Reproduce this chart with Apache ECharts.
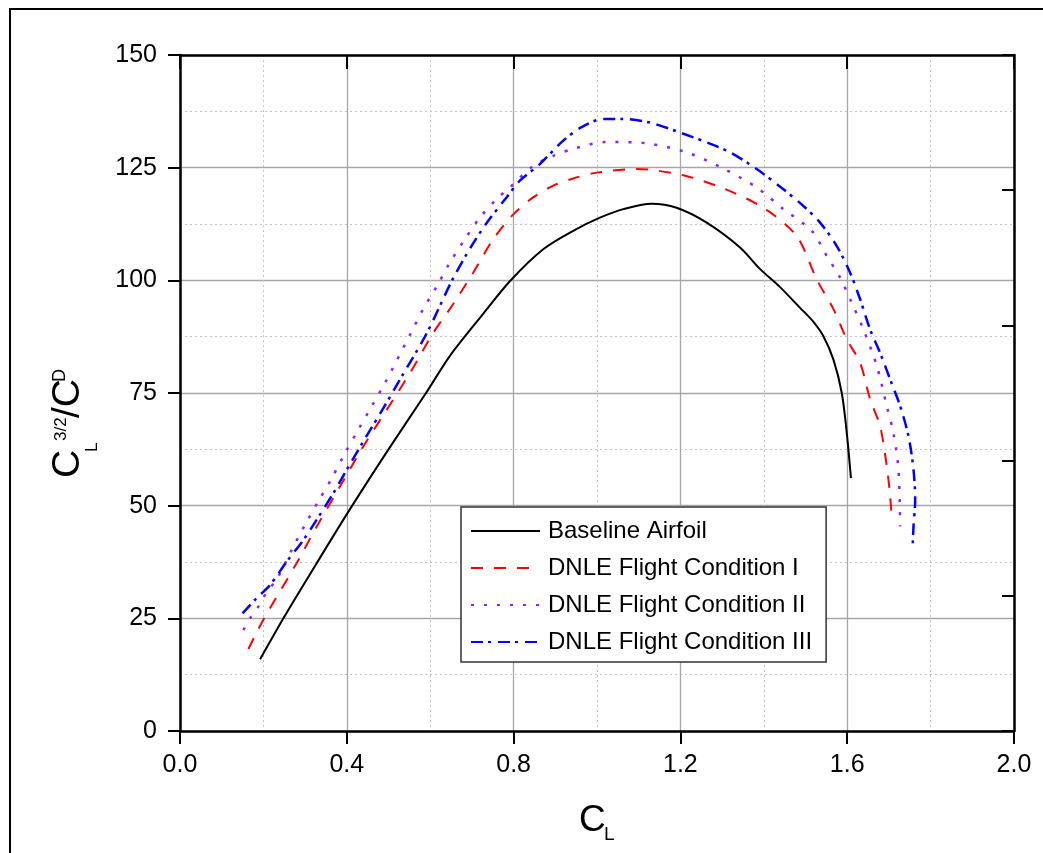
<!DOCTYPE html>
<html>
<head>
<meta charset="utf-8">
<script src="https://cdn.jsdelivr.net/npm/echarts@6/dist/echarts.min.js"></script>
<style>
  html, body { margin: 0; padding: 0; background: #fff; }
  #chart { width: 1043px; height: 853px; }
</style>
</head>
<body>
<div id="chart"></div>
<script>
// 横轴刻度
var xTicks = ['0.0', '0.4', '0.8', '1.2', '1.6', '2.0'];

// Baseline Airfoil
var baseCl = [0.192, 0.248, 0.30, 0.402, 0.50, 0.59, 0.647, 0.723, 0.791, 0.871, 0.943, 1.007, 1.063, 1.131, 1.191, 1.263, 1.343, 1.39, 1.439, 1.487, 1.519, 1.543, 1.567, 1.587, 1.599, 1.609];
var baseRatio = [15.9, 25.0, 33.0, 48.4, 62.5, 75.0, 83.2, 92.1, 99.8, 106.9, 111.0, 113.9, 115.8, 117.0, 116.1, 112.8, 107.3, 102.6, 98.5, 93.9, 90.8, 87.6, 82.4, 75.0, 66.1, 56.1];

// DNLE Flight Condition I
var cond1Cl = [0.164, 0.20, 0.28, 0.328, 0.384, 0.44, 0.496, 0.552, 0.607, 0.652, 0.703, 0.751, 0.80, 0.847, 0.895, 0.943, 1.0, 1.095, 1.207, 1.303, 1.399, 1.479, 1.527, 1.567, 1.599, 1.631, 1.655, 1.679, 1.695, 1.703, 1.707];
var cond1Ratio = [18.2, 24.7, 37.3, 45.4, 54.3, 63.2, 71.3, 79.5, 88.3, 94.3, 101.7, 109.1, 114.7, 118.4, 121.0, 122.6, 123.9, 124.7, 123.3, 120.4, 116.1, 109.8, 100.2, 93.6, 86.9, 81.7, 73.6, 67.6, 58.7, 52.1, 46.9];

// DNLE Flight Condition II
var cond2Cl = [0.152, 0.168, 0.188, 0.204, 0.236, 0.268, 0.30, 0.332, 0.364, 0.396, 0.428, 0.46, 0.492, 0.552, 0.583, 0.616, 0.647, 0.683, 0.719, 0.759, 0.791, 0.847, 0.895, 0.951, 1.023, 1.119, 1.215, 1.303, 1.383, 1.447, 1.515, 1.551, 1.583, 1.611, 1.639, 1.671, 1.695, 1.711, 1.723, 1.727];
var cond2Ratio = [22.4, 25.0, 27.6, 30.2, 34.3, 40.2, 45.8, 51.0, 56.1, 61.7, 66.9, 72.1, 77.3, 88.0, 93.6, 98.7, 103.9, 109.1, 113.9, 118.0, 120.6, 125.4, 127.6, 129.4, 130.7, 130.4, 128.4, 124.8, 120.6, 115.8, 111.0, 105.4, 100.6, 95.0, 89.1, 81.0, 72.1, 66.1, 58.0, 45.4];

// DNLE Flight Condition III
var cond3Cl = [0.150, 0.184, 0.216, 0.256, 0.296, 0.328, 0.368, 0.40, 0.44, 0.488, 0.532, 0.592, 0.652, 0.695, 0.736, 0.783, 0.815, 0.863, 0.919, 0.963, 1.015, 1.063, 1.127, 1.199, 1.263, 1.319, 1.383, 1.447, 1.495, 1.535, 1.575, 1.607, 1.631, 1.655, 1.679, 1.703, 1.727, 1.747, 1.759, 1.763, 1.759, 1.757];
var cond3Ratio = [26.1, 29.5, 32.4, 37.6, 42.4, 46.9, 52.8, 58.0, 64.3, 71.7, 78.7, 88.3, 99.9, 107.0, 112.8, 118.4, 122.1, 125.8, 131.0, 134.0, 135.8, 135.8, 135.0, 132.8, 130.6, 128.4, 124.7, 120.2, 116.5, 112.8, 107.6, 101.7, 95.8, 89.1, 83.9, 78.0, 72.1, 65.4, 58.0, 51.3, 45.4, 41.0];

var seriesNames = ['Baseline Airfoil', 'DNLE Flight Condition I', 'DNLE Flight Condition II', 'DNLE Flight Condition III'];

var FONT = '"Liberation Sans", Arial, sans-serif';

function zip(xs, ys) {
  return xs.map(function (x, i) { return [x, ys[i]]; });
}

var chart = echarts.init(document.getElementById('chart'), null, { renderer: 'canvas' });

var blackLine = { color: '#000', width: 2.5 };

chart.setOption({
  animation: false,
  backgroundColor: '#fff',
  textStyle: { fontFamily: FONT },
  grid: { left: 180, right: 29, top: 55, bottom: 122 },
  legend: {
    orient: 'vertical',
    left: 461,
    top: 507,
    padding: [12, 14, 8, 9],
    itemGap: 13,
    itemWidth: 69,
    itemHeight: 24,
    backgroundColor: '#fff',
    borderColor: '#333',
    borderWidth: 1.5,
    borderRadius: 0,
    itemStyle: { opacity: 0 },
    textStyle: { fontSize: 24, color: '#000', fontFamily: FONT, padding: [0, 0, 0, 3] },
    data: seriesNames
  },
  xAxis: [
    {
      type: 'value', min: 0, max: 2, interval: 0.4, position: 'bottom',
      axisLine: { show: true, onZero: false, lineStyle: blackLine },
      axisTick: { show: true, inside: false, length: 13, lineStyle: { color: '#000', width: 2 } },
      axisLabel: {
        fontSize: 25, color: '#000', margin: 22, fontFamily: FONT,
        formatter: function (v) { return xTicks[Math.round(v / 0.4)]; }
      },
      splitLine: { show: true, lineStyle: { color: '#a6a6a6', width: 1.3 } },
      minorTick: { show: false, splitNumber: 2 },
      minorSplitLine: { show: true, lineStyle: { color: '#c4c4c4', width: 1, type: [2, 3] } }
    },
    {
      type: 'value', min: 0, max: 2, interval: 0.4, position: 'top',
      axisLine: { show: true, onZero: false, lineStyle: blackLine },
      axisTick: { show: true, inside: true, length: 14, lineStyle: { color: '#000', width: 2 } },
      axisLabel: { show: false },
      splitLine: { show: false }
    }
  ],
  yAxis: [
    {
      type: 'value', min: 0, max: 150, interval: 25, position: 'left',
      axisLine: { show: true, onZero: false, lineStyle: blackLine },
      axisTick: { show: true, inside: false, length: 12, lineStyle: { color: '#000', width: 2 } },
      axisLabel: { fontSize: 25, color: '#000', margin: 23, fontFamily: FONT },
      splitLine: { show: true, lineStyle: { color: '#a6a6a6', width: 1.3 } },
      minorTick: { show: false, splitNumber: 2 },
      minorSplitLine: { show: true, lineStyle: { color: '#c4c4c4', width: 1, type: [2, 3] } }
    },
    {
      type: 'value', min: 0, max: 5, interval: 1, position: 'right',
      axisLine: { show: true, onZero: false, lineStyle: blackLine },
      axisTick: { show: true, inside: true, length: 12, lineStyle: { color: '#000', width: 2 } },
      axisLabel: { show: false },
      splitLine: { show: false }
    }
  ],
  graphic: [
    {
      type: 'rect', silent: true, z: -10,
      shape: { x: 10, y: 9, width: 1100, height: 1000 },
      style: { fill: 'none', stroke: '#000', lineWidth: 2 }
    },
    // x 轴标题 C_L
    {
      type: 'group',
      children: [
        { type: 'text', x: 579, y: 821, style: { text: 'C', font: '37px ' + FONT, fill: '#000', textAlign: 'left', textVerticalAlign: 'middle' } },
        { type: 'text', x: 604, y: 835, style: { text: 'L', font: '19px ' + FONT, fill: '#000', textAlign: 'left', textVerticalAlign: 'middle' } }
      ]
    },
    // y 轴标题 C_L^{3/2}/C^D
    {
      type: 'group',
      x: 82, y: 478, rotation: Math.PI / 2,
      children: [
        { type: 'text', x: 0, y: -14, style: { text: 'C', font: '39px ' + FONT, fill: '#000', textAlign: 'left', textVerticalAlign: 'middle' } },
        { type: 'text', x: 26, y: 10, style: { text: 'L', font: '17px ' + FONT, fill: '#000', textAlign: 'left', textVerticalAlign: 'middle' } },
        { type: 'text', x: 37, y: -21, style: { text: '3/2', font: '17px ' + FONT, fill: '#000', textAlign: 'left', textVerticalAlign: 'middle' } },
        { type: 'text', x: 60, y: -14, style: { text: '/C', font: '39px ' + FONT, fill: '#000', textAlign: 'left', textVerticalAlign: 'middle' } },
        { type: 'text', x: 96, y: -22, style: { text: 'D', font: '18px ' + FONT, fill: '#000', textAlign: 'left', textVerticalAlign: 'middle' } }
      ]
    }
  ],
  series: [
    {
      name: seriesNames[0], type: 'line', xAxisIndex: 0, yAxisIndex: 0,
      showSymbol: false, symbol: 'none', smooth: 0.3,
      lineStyle: { color: '#000', width: 2 }, itemStyle: { color: '#000' },
      data: zip(baseCl, baseRatio)
    },
    {
      name: seriesNames[1], type: 'line', xAxisIndex: 0, yAxisIndex: 0,
      showSymbol: false, symbol: 'none', smooth: 0.3,
      lineStyle: { color: '#ff0000', width: 2, type: [12, 11] }, itemStyle: { color: '#ff0000' },
      data: zip(cond1Cl, cond1Ratio)
    },
    {
      name: seriesNames[2], type: 'line', xAxisIndex: 0, yAxisIndex: 0,
      showSymbol: false, symbol: 'none', smooth: 0.3,
      lineStyle: { color: '#8f1fff', width: 2.5, type: [3, 10] }, itemStyle: { color: '#8f1fff' },
      data: zip(cond2Cl, cond2Ratio)
    },
    {
      name: seriesNames[3], type: 'line', xAxisIndex: 0, yAxisIndex: 0,
      showSymbol: false, symbol: 'none', smooth: 0.3,
      lineStyle: { color: '#0000ff', width: 2.5, type: [12, 5, 3, 7] }, itemStyle: { color: '#0000ff' },
      data: zip(cond3Cl, cond3Ratio)
    }
  ]
});

window.addEventListener('resize', function () { chart.resize(); });
</script>
</body>
</html>
